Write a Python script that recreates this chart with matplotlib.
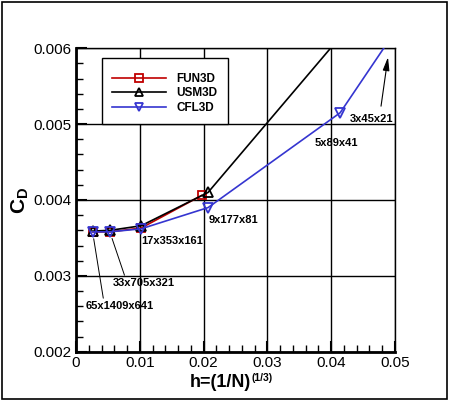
import matplotlib
matplotlib.use("Agg")
import matplotlib.pyplot as plt
from matplotlib.patches import Rectangle
from matplotlib.ticker import MultipleLocator

plt.rcParams['font.family'] = ['Liberation Sans', 'DejaVu Sans']
plt.rcParams['mathtext.fontset'] = 'custom'
plt.rcParams['mathtext.rm'] = 'Liberation Sans'
plt.rcParams['mathtext.bf'] = 'Liberation Sans:bold'

# ---- data ----
h_fun3d = [0.0026, 0.0053, 0.0102, 0.0197]
cd_fun3d = [0.00358, 0.00358, 0.00363, 0.00406]
h_usm3d = [0.0026, 0.0053, 0.0102, 0.0207, 0.0414]
cd_usm3d = [0.00359, 0.00360, 0.00366, 0.00410, 0.00615]
h_cfl3d = [0.0026, 0.0053, 0.0102, 0.0207, 0.0414, 0.0707]
cd_cfl3d = [0.00358, 0.00358, 0.00362, 0.00390, 0.00515, 0.0088]

grid_labels = ['65x1409x641', '33x705x321', '17x353x161', '9x177x81', '5x89x41', '3x45x21']

x_ticks = [0, 0.01, 0.02, 0.03, 0.04, 0.05]
x_ticklabels = ['0', '0.01', '0.02', '0.03', '0.04', '0.05']
y_ticks = [0.002, 0.003, 0.004, 0.005, 0.006]
y_ticklabels = ['0.002', '0.003', '0.004', '0.005', '0.006']

red = '#c00000'
blue = '#3535d0'

fig = plt.figure(figsize=(4.5, 4.01), dpi=100)
ax = fig.add_axes([76/450, 1-351.7/401, (395-76)/450, (351.7-48.3)/401])

ax.plot(h_fun3d, cd_fun3d, color=red, lw=1.2, marker='s', ms=6, mfc='none',
        mec=red, mew=1.3, label='FUN3D', zorder=3)
ax.plot(h_usm3d, cd_usm3d, color='black', lw=1.2, marker='^', ms=7, mfc='none',
        mec='black', mew=1.3, label='USM3D', zorder=3)
ax.plot(h_cfl3d, cd_cfl3d, color=blue, lw=1.2, marker='v', ms=7, mfc='none',
        mec=blue, mew=1.3, label='CFL3D', zorder=4)

ax.set_xlim(0, 0.05)
ax.set_ylim(0.002, 0.006)
ax.set_xticks(x_ticks)
ax.set_xticklabels(x_ticklabels)
ax.set_yticks(y_ticks)
ax.set_yticklabels(y_ticklabels)
ax.xaxis.set_minor_locator(MultipleLocator(0.002))
ax.yaxis.set_minor_locator(MultipleLocator(0.0002))
ax.tick_params(which='major', direction='in', length=8, width=1.5, labelsize=11,
               color='black', pad=3)
ax.tick_params(which='minor', direction='in', length=5, width=1.0)
ax.grid(True, which='major', color='black', lw=1.0)
ax.set_axisbelow(True)
for s in ['left', 'bottom']:
    ax.spines[s].set_linewidth(2.0)
for s in ['top', 'right']:
    ax.spines[s].set_linewidth(1.0)

# x label: main part plus small superscript
xl = ax.text(0.453, -0.102, 'h=(1/N)', transform=ax.transAxes, ha='center',
             va='center', fontsize=13, fontweight='bold')
ax.annotate('(1/3)', xy=(1.0, 0.78), xycoords=xl, ha='left', va='center',
            fontsize=7.5, fontweight='bold')
ax.set_ylabel(r'$\mathbf{C}_{\mathbf{D}}$', fontsize=15, labelpad=2)

# legend frame
ax.add_patch(Rectangle((0.0815, 0.7505), 0.395, 0.2175, transform=ax.transAxes,
                       facecolor='white', edgecolor='black', lw=1.0, zorder=8))
leg = ax.legend(loc='center left', bbox_to_anchor=(0.1119, 0.8517),
                frameon=False, handlelength=4.6, handletextpad=0.9, labelspacing=0.2,
                borderpad=0, borderaxespad=0, markerscale=0.9,
                prop={'family': 'Liberation Sans', 'weight': 'bold', 'size': 8.5})
leg.set_zorder(10)

tkw = dict(fontsize=8, fontweight='bold', ha='left', va='center', zorder=6)
lkw = dict(arrowstyle='-', color='black', lw=0.7, shrinkA=0, shrinkB=5)
# leader-line labels
ax.annotate(grid_labels[0], xy=(h_cfl3d[0], cd_cfl3d[0]), xytext=(0.00157, 0.002603),
            arrowprops=dict(relpos=(0.26, 1.0), **lkw), **tkw)
ax.annotate(grid_labels[1], xy=(h_cfl3d[1], cd_cfl3d[1]), xytext=(0.0058, 0.002906),
            arrowprops=dict(relpos=(0.2, 1.0), **lkw), **tkw)
ax.text(0.01019, 0.003460, grid_labels[2], **tkw)
ax.text(0.02085, 0.003737, grid_labels[3], **tkw)
ax.text(0.03746, 0.004751, grid_labels[4], **tkw)
ax.text(0.04295, 0.005068, grid_labels[5], **tkw)
ax.annotate('', xy=(0.0489, 0.005883), xytext=(0.04781, 0.005237),
            arrowprops=dict(arrowstyle='-|>,head_length=0.8,head_width=0.2',
                            color='black', lw=0.8, shrinkA=0, shrinkB=0))

fig.patches.append(Rectangle((2/450, 2/401), 445/450, 397/401, transform=fig.transFigure,
                             fill=False, edgecolor='black', lw=1.2))

fig.savefig('out.png', dpi=100)
